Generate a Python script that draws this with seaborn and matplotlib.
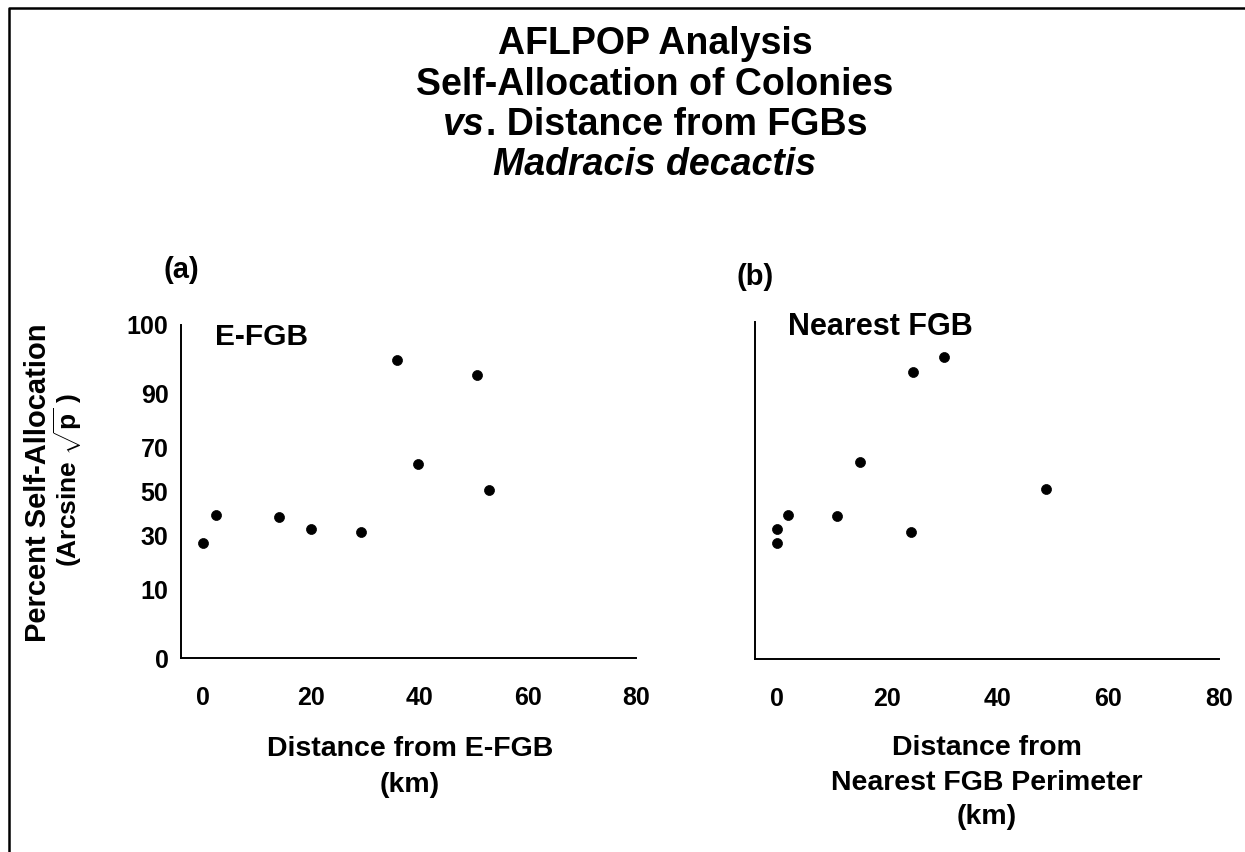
import numpy as np
import matplotlib
matplotlib.use("Agg")
import matplotlib.pyplot as plt
from matplotlib.lines import Line2D
import seaborn as sns

# ---- data ----
efgb_dist = [0.0, 2.5, 14.1, 20.0, 29.3, 35.8, 39.7, 50.7, 52.9]
efgb_pct = [26.6, 38.8, 38.2, 32.6, 31.3, 97.3, 62.9, 94.5, 50.9]

nearest_dist = [0.0, 0.0, 2.1, 10.9, 15.1, 24.6, 24.3, 30.3, 48.8]
nearest_pct = [32.6, 26.4, 38.8, 38.2, 63.0, 94.6, 31.3, 97.4, 50.7]

y_ticks = [0, 10, 30, 50, 70, 90, 100]
x_ticks = [0, 20, 40, 60, 80]

title_lines = ["AFLPOP Analysis", "Self-Allocation of Colonies"]
panel_names = ["E-FGB", "Nearest FGB"]

sns.set_style("white")
plt.rcParams["font.family"] = ["Liberation Sans", "DejaVu Sans"]
plt.rcParams["font.weight"] = "bold"
plt.rcParams["text.color"] = "black"
plt.rcParams["axes.labelcolor"] = "black"
plt.rcParams["xtick.color"] = "black"
plt.rcParams["ytick.color"] = "black"
plt.rcParams["mathtext.fontset"] = "custom"
plt.rcParams["mathtext.rm"] = "Liberation Sans:bold"
plt.rcParams["mathtext.it"] = "Liberation Sans:bold:italic"

W, H = 1245, 852
fig = plt.figure(figsize=(W / 100, H / 100), dpi=100)
fig.patch.set_facecolor("white")


def fx(px):
    return px / W


def fy(py):
    return 1 - py / H


def fwd(v):
    return np.arcsin(np.sqrt(np.clip(np.asarray(v, dtype=float) / 100.0, 0, 1)))


def inv(v):
    return 100.0 * np.sin(np.clip(np.asarray(v, dtype=float), 0, np.pi / 2)) ** 2


def setup(ax, show_labels):
    ax.set_yscale("function", functions=(fwd, inv))
    ax.set_ylim(0, 100)
    ax.set_xlim(-4, 80)
    ax.set_yticks(y_ticks)
    ax.set_xticks(x_ticks)
    if show_labels:
        ax.set_yticklabels([str(t) for t in y_ticks])
    else:
        ax.set_yticklabels([])
    ax.set_xticklabels([str(t) for t in x_ticks])
    ax.minorticks_off()
    for s in ["top", "right"]:
        ax.spines[s].set_visible(False)
    for s in ["left", "bottom"]:
        ax.spines[s].set_color("black")
        ax.spines[s].set_linewidth(1.4)
    ax.tick_params(axis="both", which="major", direction="out", length=4,
                   width=1.2, color="black", labelcolor="black", labelsize=18)
    ax.tick_params(axis="y", pad=5)
    ax.tick_params(axis="x", pad=16)
    for lab in ax.get_xticklabels() + ax.get_yticklabels():
        lab.set_fontweight("bold")
    ax.set_xlabel("")
    ax.set_ylabel("")
    ax.set_facecolor("white")


ax1 = fig.add_axes([fx(181), fy(658), fx(636) - fx(181), fy(325) - fy(658)])
ax2 = fig.add_axes([fx(754.6), fy(659), fx(1218.7) - fx(754.6), fy(322) - fy(659)])

sns.scatterplot(x=efgb_dist, y=efgb_pct, ax=ax1, color="black", s=52,
                edgecolor="black", linewidth=0.5, clip_on=False)
sns.scatterplot(x=nearest_dist, y=nearest_pct, ax=ax2, color="black", s=52,
                edgecolor="black", linewidth=0.5, clip_on=False)
setup(ax1, True)
setup(ax2, False)

# panel inner labels
fig.text(fx(215), fy(337), panel_names[0], fontsize=21.5, fontweight="bold",
         ha="left", va="center")
fig.text(fx(788), fy(327), panel_names[1], fontsize=22, fontweight="bold",
         ha="left", va="center")

# panel letters
fig.text(fx(181), fy(270), "(a)", fontsize=21, fontweight="bold", ha="center", va="center")
fig.text(fx(755), fy(277), "(b)", fontsize=21, fontweight="bold", ha="center", va="center")

# y label
fig.text(fx(38), fy(483), "Percent Self-Allocation", fontsize=21, fontweight="bold",
         rotation=90, ha="center", va="center")
fig.text(fx(68), fy(480), r"(Arcsine $\sqrt{\mathrm{p}}$ )", fontsize=19,
         fontweight="bold", rotation=90, ha="center", va="center")

# x labels
xl = 20.5
fig.text(fx(410), fy(749), "Distance from E-FGB", fontsize=xl, fontweight="bold",
         ha="center", va="center")
fig.text(fx(410), fy(785), "(km)", fontsize=xl, fontweight="bold",
         ha="center", va="center")
fig.text(fx(987), fy(748), "Distance from", fontsize=xl, fontweight="bold",
         ha="center", va="center")
fig.text(fx(987), fy(783), "Nearest FGB Perimeter", fontsize=xl, fontweight="bold",
         ha="center", va="center")
fig.text(fx(987), fy(817), "(km)", fontsize=xl, fontweight="bold",
         ha="center", va="center")

# title
cx = 655
tsize = 27
fig.text(fx(cx), fy(44), title_lines[0], fontsize=tsize, fontweight="bold",
         ha="center", va="center")
fig.text(fx(cx), fy(85), title_lines[1], fontsize=tsize, fontweight="bold",
         ha="center", va="center")
t_vs = fig.text(0, fy(125), "vs", fontsize=tsize, fontweight="bold", style="italic",
                ha="left", va="center")
t_rest = fig.text(0, fy(125), ". Distance from FGBs", fontsize=tsize, fontweight="bold",
                  ha="left", va="center")
fig.text(fx(cx), fy(165), "Madracis decactis", fontsize=tsize, fontweight="bold",
         style="italic", ha="center", va="center")

renderer = fig.canvas.get_renderer()
w_vs = t_vs.get_window_extent(renderer).width
w_rest = t_rest.get_window_extent(renderer).width
start = cx - (w_vs + w_rest) / 2
t_vs.set_x(fx(start))
t_rest.set_x(fx(start + w_vs + 1))

# outer frame (top and left only, as in the reference)
fig.add_artist(Line2D([fx(9), fx(9), fx(1245)], [fy(852), fy(8), fy(8)],
                      transform=fig.transFigure, color="black", linewidth=1.8))

fig.savefig("out.png", dpi=100, facecolor="white")
